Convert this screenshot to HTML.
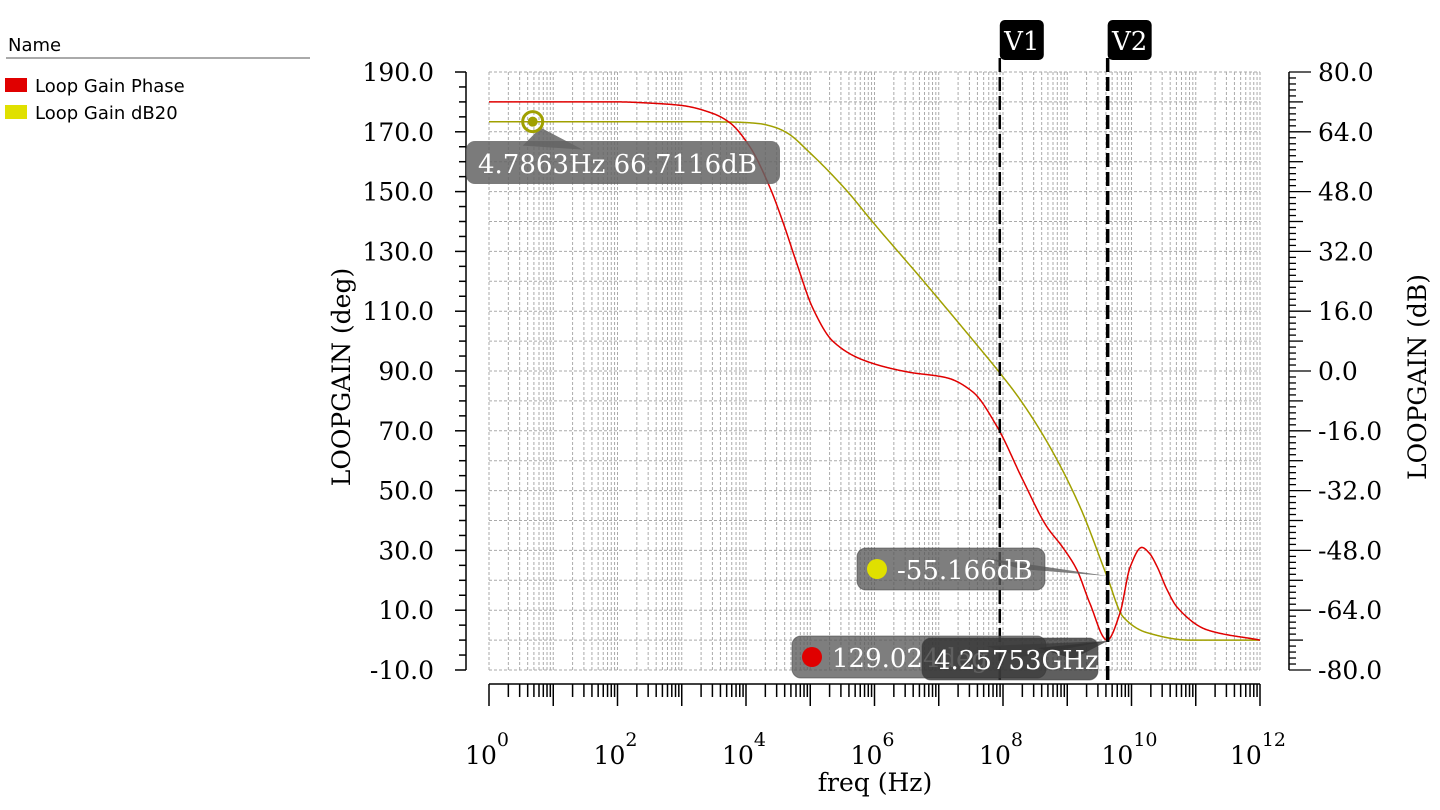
<!DOCTYPE html>
<html><head><meta charset="utf-8"><style>
html,body{margin:0;padding:0;background:#fff;width:1440px;height:810px;overflow:hidden}
svg{display:block}
.lg{font-family:"DejaVu Sans","Liberation Sans",sans-serif;font-size:18px;fill:#000}
.tk{font-family:"DejaVu Serif","Liberation Serif",serif;font-size:25px;fill:#000}
.an{font-family:"DejaVu Serif","Liberation Serif",serif;font-size:26px;fill:#fff}
</style></head><body>
<svg id="chart" width="1440" height="810" xmlns="http://www.w3.org/2000/svg">
<g>
<text class="lg" x="8" y="51">Name</text>
<line x1="6" y1="58" x2="310" y2="58" stroke="#777" stroke-width="1.2"/>
<rect x="5" y="78" width="22" height="14" fill="#e00000"/>
<text class="lg" x="35" y="92">Loop Gain Phase</text>
<rect x="5" y="105" width="22" height="14" fill="#e0e000"/>
<text class="lg" x="35" y="119">Loop Gain dB20</text>
</g>
<g id="grid"></g>
<g id="axes"></g>
<g id="series"></g>
<g id="cursors"></g>
<g id="notes"></g>
<text class="tk" transform="translate(350,377) rotate(-90)" text-anchor="middle">LOOPGAIN (deg)</text>
<text class="tk" transform="translate(1426,377) rotate(-90)" text-anchor="middle">LOOPGAIN (dB)</text>
<text class="tk" x="875" y="791" text-anchor="middle">freq (Hz)</text>
</svg>
<script>
const phaseLogF=[0,1.5,2.0,2.5,3.0,3.5,3.75,4.06,4.37,4.58,4.79,5.04,5.35,5.82,6.51,7.13,7.53,7.91,8.31,8.68,8.93,9.15,9.35,9.62,9.82,9.98,10.16,10.28,10.4,10.55,10.71,11.18,12];
const phaseDeg=[180,180,180,179.6,178.8,176,173,165,151.5,139.5,126,111,100,93.7,89.7,87.7,83,71.3,53.5,38,31,23.5,12.4,0,9,24.5,31,29,24.5,17,11,3.4,0];
const dbLogF=[0,3,3.8,4.2,4.45,4.64,5.0,5.56,5.97,6.75,7.53,7.95,8.26,8.73,9.2,9.62,9.87,10.24,10.91,12];
const dbVal=[66.7,66.7,66.6,66.2,65.2,63.7,58.3,48.4,39.9,24.3,8.3,-0.5,-7.5,-20.3,-36.4,-55,-65.8,-70,-72,-72];
const leftTicks=[190,170,150,130,110,90,70,50,30,10,-10];
const rightTicks=[80,64,48,32,16,0,-16,-32,-48,-64,-80];
const decades=[0,2,4,6,8,10,12];
const cursorLogF=[7.95,9.629];
const cursorNames=["V1","V2"];

const NS="http://www.w3.org/2000/svg";
const X0=489,X1=1260,Y0=72,Y1=670;
const xs=lf=>X0+(lf-0)/12*(X1-X0);
const yl=v=>Y0+(190-v)/200*(Y1-Y0);
const yr=v=>Y0+(80-v)/160*(Y1-Y0);
function mk(tag,attrs,parent){const e=document.createElementNS(NS,tag);for(const k in attrs)e.setAttribute(k,attrs[k]);parent.appendChild(e);return e;}
const grid=document.getElementById('grid'),axes=document.getElementById('axes'),series=document.getElementById('series'),cur=document.getElementById('cursors'),notes=document.getElementById('notes');

for(let d=0;d<=12;d++){for(let m=1;m<=9;m++){if(d==12&&m>1)break;const x=xs(d+Math.log10(m));
const l=mk('line',{x1:x,y1:Y0,x2:x,y2:Y1,stroke:'#aaa','stroke-width':1,'stroke-dasharray':'3,2'},grid);

}}
for(let v=190;v>=-10;v-=10){const y=yl(v);
const l=mk('line',{x1:X0,y1:y,x2:X1,y2:y,stroke:'#aaa','stroke-width':1,'stroke-dasharray':'3,2'},grid);

}

mk('line',{x1:466,y1:Y0,x2:466,y2:Y1,stroke:'#000','stroke-width':1.5},axes);
for(let v=190;v>=-10;v-=5){const y=yl(v);const maj=((v+10)%20===0);
mk('line',{x1:maj?455:459,y1:y,x2:466,y2:y,stroke:'#000','stroke-width':1.5},axes);}
leftTicks.forEach(v=>{const t=mk('text',{x:434,y:yl(v)+9,'text-anchor':'end',class:'tk'},axes);t.textContent=v.toFixed(1);

});
mk('line',{x1:1289,y1:Y0,x2:1289,y2:Y1,stroke:'#000','stroke-width':1.5},axes);
for(let i=0;i<=100;i++){const v=80-i*1.6;const y=yr(v);const len=(i%10===0)?22:(i%5===0)?14:7;
mk('line',{x1:1289,y1:y,x2:1289+len,y2:y,stroke:'#000','stroke-width':1.3},axes);}
rightTicks.forEach(v=>{const t=mk('text',{x:1318,y:yr(v)+9,class:'tk'},axes);t.textContent=v.toFixed(1);

});
mk('line',{x1:X0,y1:684,x2:X1,y2:684,stroke:'#000','stroke-width':1.5},axes);
for(let d=0;d<=12;d++){for(let m=1;m<=9;m++){if(d==12&&m>1)break;const x=xs(d+Math.log10(m));
mk('line',{x1:x,y1:684,x2:x,y2:m===1?706:697,stroke:'#000','stroke-width':1.5},axes);}}
decades.forEach(d=>{const t=mk('text',{x:xs(d)-2,y:764,'text-anchor':'middle',class:'tk'},axes);
t.textContent='10';const s=mk('tspan',{dy:-18,'font-size':'19'},t);s.textContent=String(d);

});

// monotone cubic (Fritsch-Carlson) in data space
function mono(X,Y){const n=X.length,dl=[],m=new Array(n);
for(let i=0;i<n-1;i++)dl.push((Y[i+1]-Y[i])/(X[i+1]-X[i]));
m[0]=dl[0];m[n-1]=dl[n-2];
for(let i=1;i<n-1;i++){if(dl[i-1]*dl[i]<=0)m[i]=0;else{const h0=X[i]-X[i-1],h1=X[i+1]-X[i];const w1=2*h1+h0,w2=h1+2*h0;m[i]=(w1+w2)/(w1/dl[i-1]+w2/dl[i]);}}
return x=>{let i=0;while(i<n-2&&x>X[i+1])i++;const h=X[i+1]-X[i],t=(x-X[i])/h,t2=t*t,t3=t2*t;
return (2*t3-3*t2+1)*Y[i]+(t3-2*t2+t)*h*m[i]+(-2*t3+3*t2)*Y[i+1]+(t3-t2)*h*m[i+1];};}
function curve(X,Y,ys){const f=mono(X,Y);let d='';for(let k=0;k<=1200;k++){const lf=X[0]+(X[X.length-1]-X[0])*k/1200;d+=(k?'L':'M')+xs(lf).toFixed(2)+','+ys(f(lf)).toFixed(2);}return d;}
const pd=mk('path',{d:curve(dbLogF,dbVal,yr),fill:'none',stroke:'#a0a000','stroke-width':1.5},series);


const pp=mk('path',{d:curve(phaseLogF,phaseDeg,yl),fill:'none',stroke:'#e00000','stroke-width':1.5},series);



cursorLogF.forEach((lf,i)=>{const x=xs(lf);
const l=mk('line',{x1:x,y1:58,x2:x,y2:684,stroke:'#000','stroke-width':i?3.5:2.5,'stroke-dasharray':'14,5'},cur);


mk('rect',{x:x,y:20,width:44,height:40,rx:5,fill:'#000'},cur);
const t=mk('text',{x:x+22,y:50,'text-anchor':'middle',class:'an'},cur);t.textContent=cursorNames[i];

});

function note(name,bx,by,bw,bh,tx,ty,fill,text,dot){const g=mk('g',{},notes);


mk('polygon',{points:(bx+bw-60)+','+(by+10)+' '+(bx+bw-25)+','+(by+bh/2)+' '+tx+','+ty,fill:fill},g);
mk('rect',{x:bx,y:by,width:bw,height:bh,rx:9,fill:fill,stroke:'rgba(60,60,60,0.5)'},g);
let off=12;if(dot){mk('circle',{cx:bx+20,cy:by+bh/2,r:10,fill:dot},g);off=40;}
const t=mk('text',{x:bx+off,y:by+bh/2+10,class:'an'},g);t.textContent=text;}
note('marker-label-db',857,548,188,42,xs(9.629),576,'rgba(90,90,90,0.78)','-55.166dB','#e0e000');
note('marker-label-phase',792,636,254,42,xs(9.629),641,'rgba(90,90,90,0.78)','129.024deg','#e00000');
note('marker-label-freq',922,638,176,42,xs(9.629),641,'rgba(50,50,50,0.78)','4.25753GHz',null);
const g0=mk('g',{},notes);


const mx=xs(Math.log10(4.7863)),my=yr(66.7116);
mk('polygon',{points:(mx+8)+','+(my+6)+' '+(mx+50)+','+(my+28)+' '+(mx-10)+','+(my+24),fill:'rgba(100,100,100,0.85)'},g0);
mk('rect',{x:466,y:141,width:314,height:43,rx:9,fill:'rgba(100,100,100,0.85)'},g0);
const t0=mk('text',{x:478,y:173,class:'an'},g0);t0.textContent='4.7863Hz 66.7116dB';
mk('circle',{cx:mx,cy:my,r:10,fill:'none',stroke:'#a0a000','stroke-width':3},g0);
mk('circle',{cx:mx,cy:my,r:5,fill:'#a0a000'},g0);
</script>
</body></html>
